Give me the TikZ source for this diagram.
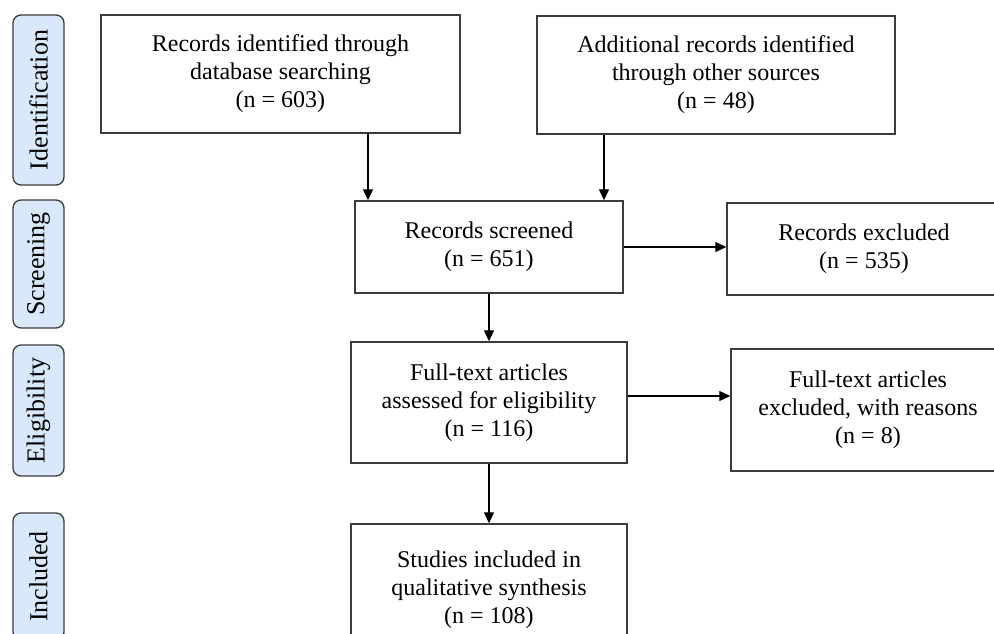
\documentclass[tikz,border=0pt]{standalone}
\usepackage{fontspec}
\setmainfont{Liberation Serif}
\usetikzlibrary{arrows.meta}
\definecolor{lblfill}{RGB}{218,232,252}
\definecolor{edge}{RGB}{60,60,60}
\begin{document}
\begin{tikzpicture}[x=1pt,y=-1pt,
  txt/.style={font=\fontsize{24}{28}\selectfont},
  flowbox/.style={txt,draw=edge,line width=1.4pt,fill=white,align=center,inner sep=0pt,anchor=center},
  stagebox/.style={font=\fontsize{26}{30}\selectfont,draw=edge,line width=1.3pt,fill=lblfill,rounded corners=8pt,rotate=90,inner sep=0pt,anchor=center,minimum height=51pt},
  arr/.style={draw=black,line width=1.2pt,-{Triangle[length=11pt,width=10pt]}}]
\useasboundingbox (0,0) rectangle (994,633);
\clip (0,0) rectangle (994,633);
\fill[white] (0,0) rectangle (994,633);

% stage labels
\node[stagebox,minimum width=170pt] (sid) at (38.5,100) {Identification};
\node[stagebox,minimum width=128pt] (ssc) at (38.5,264) {Screening};
\node[stagebox,minimum width=131pt] (sel) at (38.5,410.5) {Eligibility};
\node[stagebox,minimum width=127pt] (sin) at (38.5,576.5) {Included};

% flow boxes
\node[flowbox,minimum width=359pt,minimum height=118pt] (db) at (280.5,74) {Records identified through\\database searching\\(n = 603)};
\node[flowbox,minimum width=358pt,minimum height=118pt] (other) at (716,75) {Additional records identified\\through other sources\\(n = 48)};
\node[flowbox,minimum width=268pt,minimum height=92pt] (scr) at (489,247) {Records screened\\(n = 651)};
\node[flowbox,minimum width=274pt,minimum height=92pt] (rex) at (864,249) {Records excluded\\(n = 535)};
\node[flowbox,minimum width=276pt,minimum height=121pt] (ft) at (489,402.5) {Full-text articles\\assessed for eligibility\\(n = 116)};
\node[flowbox,minimum width=274pt,minimum height=122pt] (fex) at (868,410) {Full-text articles\\excluded, with reasons\\(n = 8)};
\node[flowbox,minimum width=276pt,minimum height=132pt] (inc) at (489,590) {Studies included in\\qualitative synthesis\\(n = 108)};

% helper coordinates for connector positions
\coordinate (c1) at (368,0);
\coordinate (c2) at (604,0);
\coordinate (c3) at (0,396);

% connectors
\draw[arr] (db.south -| c1) -- (scr.north -| c1);
\draw[arr] (other.south -| c2) -- (scr.north -| c2);
\draw[arr] (scr.east) -- (scr.east -| rex.west);
\draw[arr] (scr.south) -- (ft.north);
\draw[arr] (ft.east |- c3) -- (fex.west |- c3);
\draw[arr] (ft.south) -- (inc.north);
\end{tikzpicture}
\end{document}
